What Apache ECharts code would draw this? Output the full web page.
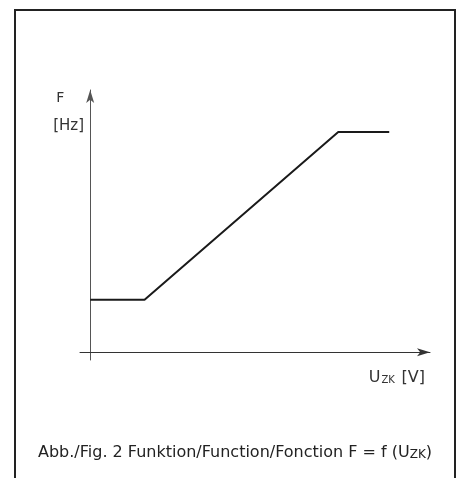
<!DOCTYPE html>
<html>
<head>
<meta charset="utf-8">
<script src="https://cdn.jsdelivr.net/npm/echarts@6/dist/echarts.min.js"></script>
<style>
	html, body { margin: 0; padding: 0; background: #fff; }
	#chart { width: 461px; height: 478px; }
</style>
</head>
<body>
<div id="chart"></div>
<script>
var uZK = [0, 16, 73, 88];
var freq = [20, 20, 84, 84];
var caption = 'Abb./Fig. 2 Funktion/Function/Fonction F = f ({n|U}{s|ZK})';

function renderChart() {
	var myChart = echarts.init(document.getElementById('chart'));
	var points = [];
	for(var i = 0; i < uZK.length; i++) {
		points.push([uZK[i], freq[i]]);
	}
	var font = '"DejaVu Sans", sans-serif';
	var option = {
		animation: false,
		title: {
			text: caption,
			left: 33,
			top: 439,
			textStyle: {
				fontFamily: font,
				fontSize: 16,
				fontWeight: 'normal',
				color: '#222',
				rich: {
					n: { fontFamily: font, fontSize: 16, color: '#222' },
					s: { fontFamily: font, fontSize: 12, color: '#222', padding: [5, 0, 0, 0] }
				}
			}
		},
		grid: {
			left: 80,
			right: 31,
			top: 90,
			bottom: 118
		},
		xAxis: {
			type: 'value',
			min: -3,
			max: 100,
			splitLine: { show: false },
			axisTick: { show: false },
			axisLabel: { show: false },
			axisLine: {
				onZero: true,
				symbol: ['none', 'arrow'],
				symbolSize: [6, 13],
				lineStyle: { color: '#333', width: 1 }
			},
			name: '{u|U}{s|ZK}  {u|[V]}',
			nameLocation: 'end',
			nameGap: -5,
			nameTextStyle: {
				align: 'right',
				verticalAlign: 'top',
				padding: [18, 0, 0, 0],
				rich: {
					u: { fontFamily: font, fontSize: 16, color: '#333' },
					s: { fontFamily: font, fontSize: 10, color: '#333', padding: [4, 0, 0, 1] }
				}
			}
		},
		yAxis: {
			type: 'value',
			min: -3,
			max: 100,
			splitLine: { show: false },
			axisTick: { show: false },
			axisLabel: { show: false },
			axisLine: {
				onZero: true,
				symbol: ['none', 'arrow'],
				symbolSize: [6, 13],
				lineStyle: { color: '#555', width: 1 }
			},
			name: '{a|F}\n{b|[Hz]}',
			nameLocation: 'end',
			nameGap: -48,
			nameTextStyle: {
				align: 'right',
				padding: [0, 4, 0, 0],
				rich: {
					a: { fontFamily: font, fontSize: 14, color: '#333', width: 30, align: 'left', padding: [0, 0, 0, 3], lineHeight: 32 },
					b: { fontFamily: font, fontSize: 15, color: '#333', width: 30, align: 'left', lineHeight: 24 }
				}
			}
		},
		series: [{
			type: 'line',
			data: points,
			symbol: 'none',
			lineStyle: { color: '#1a1a1a', width: 2 }
		}],
		graphic: [{
			type: 'rect',
			shape: { x: 15, y: 10, width: 440, height: 490 },
			style: { fill: 'none', stroke: '#222', lineWidth: 2 }
		}]
	};
	myChart.setOption(option);
	window.onresize = function() {
		myChart.resize();
	}
}

renderChart();
</script>
</body>
</html>
